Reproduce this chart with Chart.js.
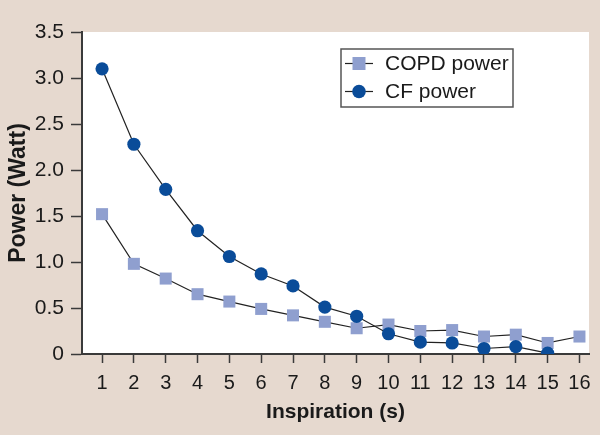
<!DOCTYPE html>
<html>
<head>
  <meta charset="utf-8">
  <script src="https://cdn.jsdelivr.net/npm/chart.js@4.4.1/dist/chart.umd.min.js"></script>
  <style>
    html, body { margin: 0; padding: 0; background: #e6d9cf; }
    #wrap { width: 600px; height: 435px; }
  </style>
  <title>Power vs inspiration</title>
</head>
<body>
  <div id="wrap"><canvas id="power_chart"></canvas></div>

  <script>
    // data
    const inspiration = [1, 2, 3, 4, 5, 6, 7, 8, 9, 10, 11, 12, 13, 14, 15, 16];
    const copd_power = [1.52, 0.98, 0.82, 0.65, 0.57, 0.49, 0.42, 0.35, 0.28, 0.32, 0.25, 0.26, 0.19, 0.21, 0.12, 0.19];
    const cf_power = [3.10, 2.28, 1.79, 1.34, 1.06, 0.87, 0.74, 0.51, 0.41, 0.22, 0.13, 0.12, 0.06, 0.08, 0.01];
    const y_ticks = [0, 0.5, 1.0, 1.5, 2.0, 2.5, 3.0, 3.5];

    const FONT = "'Liberation Sans', Arial, Helvetica, sans-serif";
    const BEIGE = "#e6d9cf";
    const AXIS = "#3a3a3a";

    function toPoints(xs, ys) {
      return ys.map(function (v, i) { return { x: xs[i], y: v }; });
    }

    // beige page, white plot area
    const bgPlugin = {
      id: "bg",
      beforeDraw(chart) {
        const c = chart.ctx, a = chart.chartArea;
        c.save();
        c.fillStyle = BEIGE;
        c.fillRect(0, 0, chart.width, chart.height);
        c.fillStyle = "#ffffff";
        c.fillRect(a.left, a.top, a.right - a.left, a.bottom - a.top);
        c.restore();
      }
    };

    // boxed legend inside the plot, upper right
    const legendPlugin = {
      id: "boxLegend",
      afterDatasetsDraw(chart) {
        const c = chart.ctx;
        const sets = chart.data.datasets;
        const x0 = 341, y0 = 49, w = 172, h = 58;
        c.save();
        c.lineWidth = 1.5;
        c.strokeStyle = "#555555";
        c.strokeRect(x0, y0, w, h);
        c.font = "21px " + FONT;
        c.textBaseline = "middle";
        sets.forEach(function (ds, i) {
          const cy = y0 + 14.5 + i * 28;
          c.strokeStyle = "#222222";
          c.lineWidth = 1.2;
          c.beginPath();
          c.moveTo(x0 + 4, cy);
          c.lineTo(x0 + 32, cy);
          c.stroke();
          c.fillStyle = ds.pointBackgroundColor;
          if (ds.pointStyle === "rect") {
            c.fillRect(x0 + 11.5, cy - 6.5, 13, 13);
          } else {
            c.beginPath();
            c.arc(x0 + 18, cy, 6.8, 0, Math.PI * 2);
            c.fill();
          }
          c.fillStyle = "#1a1a1a";
          c.fillText(ds.label, x0 + 44, cy + 1);
        });
        c.restore();
      }
    };

    new Chart(document.getElementById("power_chart"), {
      type: "line",
      data: {
        datasets: [{
          label: "COPD power",
          data: toPoints(inspiration, copd_power),
          borderColor: "#222222",
          borderWidth: 1.2,
          pointStyle: "rect",
          pointRadius: 8.5,
          pointHoverRadius: 8.5,
          pointBorderWidth: 0,
          pointBackgroundColor: "#8f9fcf",
          order: 2
        }, {
          label: "CF power",
          data: toPoints(inspiration, cf_power),
          borderColor: "#222222",
          borderWidth: 1.2,
          pointStyle: "circle",
          pointRadius: 6.6,
          pointHoverRadius: 6.6,
          pointBorderWidth: 0,
          pointBackgroundColor: "#0a4c99",
          order: 1
        }]
      },
      options: {
        responsive: true,
        maintainAspectRatio: false,
        animation: false,
        layout: { padding: { top: 32, right: 11, left: 0, bottom: 0 } },
        plugins: {
          legend: { display: false },
          tooltip: { enabled: false }
        },
        scales: {
          x: {
            type: "linear",
            min: 0.37,
            max: 16.3,
            afterFit(scale) { scale.height = 81; },
            afterBuildTicks(scale) {
              scale.ticks = inspiration.map(function (v) { return { value: v }; });
            },
            border: { display: true, color: AXIS, width: 2 },
            grid: { drawOnChartArea: false, drawTicks: true, tickLength: 9, tickColor: AXIS, tickWidth: 1.5 },
            ticks: {
              color: "#1a1a1a",
              font: { family: FONT, size: 20 },
              padding: 8,
              maxRotation: 0,
              autoSkip: false
            },
            title: {
              display: true,
              text: "Inspiration (s)",
              color: "#1a1a1a",
              font: { family: FONT, size: 21, weight: "bold" },
              padding: { top: 0, bottom: 10 }
            }
          },
          y: {
            min: 0,
            max: 3.5,
            afterFit(scale) { scale.width = 82; },
            afterBuildTicks(scale) {
              scale.ticks = y_ticks.map(function (v) { return { value: v }; });
            },
            border: { display: true, color: AXIS, width: 2 },
            grid: { drawOnChartArea: false, drawTicks: true, tickLength: 11, tickColor: AXIS, tickWidth: 1.5 },
            ticks: {
              color: "#1a1a1a",
              font: { family: FONT, size: 21 },
              padding: 7,
              callback: function (v) { return v === 0 ? "0" : v.toFixed(1); }
            },
            title: {
              display: true,
              text: "Power (Watt)",
              color: "#1a1a1a",
              font: { family: FONT, size: 23, weight: "bold" },
              padding: { top: 5, bottom: 0 }
            }
          }
        }
      },
      plugins: [bgPlugin, legendPlugin]
    });
  </script>
</body>
</html>
